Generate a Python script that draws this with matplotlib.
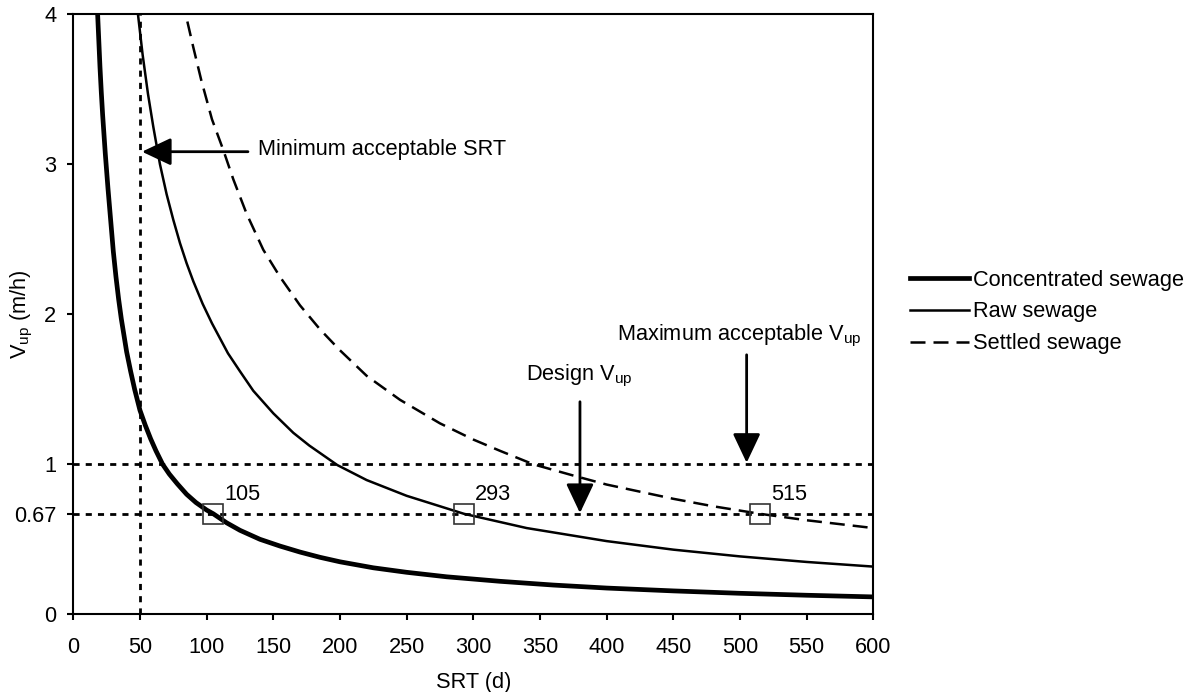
import matplotlib.pyplot as plt

plt.rcParams["font.family"] = ["Liberation Sans", "DejaVu Sans"]
plt.rcParams["mathtext.fontset"] = "custom"
plt.rcParams["mathtext.rm"] = "Liberation Sans"
plt.rcParams["mathtext.it"] = "Liberation Sans:italic"

# readings: SRT (d) vs upflow velocity (m/h)
conc_srt = [17, 18, 19, 20, 21, 22, 24, 26, 28, 30, 32, 34, 36, 38, 40, 43, 46, 50, 54, 58,
            62, 67, 72, 78, 85, 92, 100, 105, 115, 125, 140, 155, 170, 185, 200, 225, 250,
            280, 320, 360, 400, 450, 500, 550, 600]
conc_vup = [4.3, 4.05, 3.85, 3.65, 3.48, 3.33, 3.07, 2.84, 2.63, 2.42, 2.25, 2.1, 1.97, 1.86,
            1.75, 1.62, 1.5, 1.36, 1.26, 1.17, 1.09, 1.0, 0.935, 0.87, 0.8, 0.745, 0.695,
            0.67, 0.61, 0.56, 0.5, 0.455, 0.415, 0.38, 0.35, 0.31, 0.28, 0.25, 0.22, 0.195,
            0.175, 0.156, 0.14, 0.127, 0.116]

raw_srt = [46, 48.5, 52, 56, 60, 65, 70, 75, 80, 85, 90, 97, 104, 110, 116, 125, 135, 150,
           165, 177, 198, 220, 250, 293, 340, 400, 450, 500, 550, 600]
raw_vup = [4.24, 4.0, 3.73, 3.47, 3.25, 3.0, 2.8, 2.63, 2.475, 2.34, 2.22, 2.07, 1.94, 1.84,
           1.74, 1.62, 1.49, 1.34, 1.21, 1.125, 0.995, 0.895, 0.79, 0.67, 0.575, 0.488,
           0.431, 0.386, 0.349, 0.318]

settled_srt = [81, 84.3, 90, 96, 104, 112.5, 120, 130, 142.5, 155, 170, 185, 200, 220, 245,
               275, 300, 320, 345, 375, 400, 450, 480, 515, 550, 600]
settled_vup = [4.15, 4.0, 3.78, 3.56, 3.3, 3.095, 2.9, 2.67, 2.43, 2.25, 2.06, 1.9, 1.76,
               1.59, 1.43, 1.273, 1.165, 1.09, 1.0, 0.925, 0.865, 0.77, 0.72, 0.67, 0.627,
               0.575]

point_srt = [105, 293, 515]
point_vup = [0.67, 0.67, 0.67]

design_vup = 0.67
max_vup = 1.0
min_srt = 50

xticks = list(range(0, 601, 50))
yticks = [0, 0.67, 1, 2, 3, 4]
yticklabels = ["0", "0.67", "1", "2", "3", "4"]

fs = 15.7
fig = plt.figure(figsize=(11.93, 6.92), dpi=100)
ax = fig.add_axes([73.3 / 1193, 77.7 / 692, 800 / 1193, 600 / 692])

dots = (0, (2.2, 2.2))
ax.plot([0, 600], [max_vup, max_vup], color="black", lw=2, linestyle=dots)
ax.plot([0, 600], [design_vup, design_vup], color="black", lw=2, linestyle=dots)
ax.plot([min_srt, min_srt], [0, 4], color="black", lw=2, linestyle=dots)

ax.plot(conc_srt, conc_vup, color="black", lw=3.4, label="Concentrated sewage")
ax.plot(raw_srt, raw_vup, color="black", lw=1.8, label="Raw sewage")
ax.plot(settled_srt, settled_vup, color="black", lw=1.8, linestyle=(0, (6, 3.2)),
        label="Settled sewage")

ax.plot(point_srt, point_vup, linestyle="none", marker="s", markersize=15,
        markerfacecolor="none", markeredgecolor="#333333", markeredgewidth=1.2)
for x, y in zip(point_srt, point_vup):
    ax.annotate(str(x), xy=(x, y), xytext=(8, 6), textcoords="offset points",
                fontsize=fs, ha="left", va="bottom")

head = dict(arrowstyle="-|>,head_length=1.8,head_width=0.85", color="black", lw=2,
            shrinkA=0, shrinkB=0)
ax.annotate("", xy=(51.5, 3.084), xytext=(131, 3.084), arrowprops=head)
ax.annotate("", xy=(380, 0.675), xytext=(380, 1.417), arrowprops=head)
ax.annotate("", xy=(505, 1.01), xytext=(505, 1.73), arrowprops=head)

ax.text(138.6, 3.062, "Minimum acceptable SRT", fontsize=fs, va="baseline")
ax.text(339.6, 1.562, r"Design $\mathregular{V_{up}}$", fontsize=fs, va="baseline")
ax.text(408.1, 1.829, r"Maximum acceptable $\mathregular{V_{up}}$", fontsize=fs,
        va="baseline")

ax.set_xlim(0, 600)
ax.set_ylim(0, 4)
ax.set_xticks(xticks)
ax.set_yticks(yticks)
ax.set_yticklabels(yticklabels)
ax.tick_params(axis="both", direction="out", length=4.3, width=1.5, labelsize=fs)
ax.tick_params(axis="x", pad=12)
ax.tick_params(axis="y", pad=8)
for s in ax.spines.values():
    s.set_linewidth(1.5)

ax.set_xlabel("SRT (d)", fontsize=fs, labelpad=10)
ax.set_ylabel(r"$\mathregular{V_{up}}$ (m/h)", fontsize=fs)
ax.yaxis.label.set_verticalalignment("center")
ax.yaxis.set_label_coords(-51.3 / 800, 0.5)

fig.legend(loc="center left", bbox_to_anchor=(910 / 1193, (692 - 312) / 692),
           frameon=False, fontsize=fs, handlelength=2.7, handletextpad=0.2,
           labelspacing=0.5, borderpad=0, borderaxespad=0)

fig.savefig("out.png", dpi=100)
